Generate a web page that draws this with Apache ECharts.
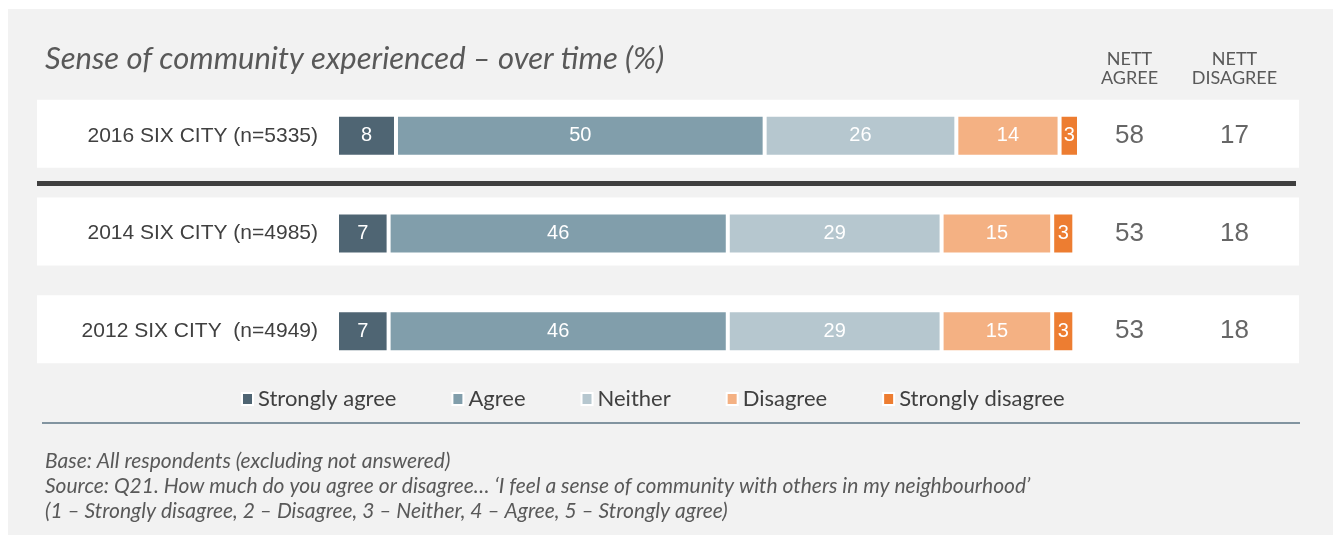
<!DOCTYPE html>
<html>
<head>
<meta charset="utf-8">
<style>
  html, body { margin: 0; padding: 0; background: #ffffff; }
  #chart { width: 1335px; height: 539px; }
</style>
<script src="https://cdn.jsdelivr.net/npm/echarts@6/dist/echarts.min.js"></script>
</head>
<body>
<div id="chart"></div>
<script>
// Survey waves, top to bottom
const rows = ['2016 SIX CITY (n=5335)', '2014 SIX CITY (n=4985)', '2012 SIX CITY  (n=4949)'];

// Response shares (%) per wave
const stronglyAgree    = [8, 7, 7];
const agree            = [50, 46, 46];
const neither          = [26, 29, 29];
const disagree         = [14, 15, 15];
const stronglyDisagree = [3, 3, 3];

// Nett columns
const nettHeaders  = ['NETT\nAGREE', 'NETT\nDISAGREE'];
const nettAgree    = [58, 53, 53];
const nettDisagree = [17, 18, 18];

const seriesNames  = ['Strongly agree', 'Agree', 'Neither', 'Disagree', 'Strongly disagree'];
const seriesValues = [stronglyAgree, agree, neither, disagree, stronglyDisagree];
const seriesColors = ['#4f6573', '#819eab', '#b6c7cf', '#f4b183', '#ed7d31'];

const footnotes = [
  'Base: All respondents (excluding not answered)',
  'Source: Q21. How much do you agree or disagree\u2026 \u2018I feel a sense of community with others in my neighbourhood\u2019',
  '(1 \u2013 Strongly disagree, 2 \u2013 Disagree, 3 \u2013 Neither, 4 \u2013 Agree, 5 \u2013 Strongly agree)'
];

const GRID_TOP = 85, GRID_H = 293;
const chart = echarts.init(document.getElementById('chart'));

const stackSeries = seriesNames.map((name, k) => ({
  name: name,
  type: 'bar',
  stack: 'total',
  xAxisIndex: 1,
  yAxisIndex: 1,
  barWidth: 42,
  z: 3,
  data: seriesValues[k],
  itemStyle: { color: seriesColors[k], borderColor: '#ffffff', borderWidth: 2 },
  label: {
    show: true,
    position: 'inside',
    color: '#ffffff',
    fontFamily: 'Liberation Sans',
    fontSize: 20
  },
  emphasis: { disabled: true }
}));

const nettSeries = [nettAgree, nettDisagree].map((vals, c) => ({
  type: 'scatter',
  xAxisIndex: 2,
  yAxisIndex: 2,
  symbolSize: 0,
  silent: true,
  data: vals.map((v, i) => [c, i, v]),
  label: {
    show: true,
    position: 'inside',
    formatter: p => String(p.data[2]),
    color: '#404040',
    fontFamily: 'Liberation Sans',
    fontSize: 26
  }
}));

chart.setOption({
  backgroundColor: '#ffffff',
  animation: false,
  graphic: [
    // panel background
    { type: 'rect', z: -10, shape: { x: 8, y: 9, width: 1325, height: 526 }, style: { fill: '#f2f2f2' } },
    // title
    { type: 'text', left: 45, top: 43, style: {
        text: 'Sense of community experienced \u2013 over time (%)',
        font: 'italic 31px Lato', fill: '#595959' } },
    // divider between current and previous waves
    { type: 'rect', z: 5, shape: { x: 37, y: 181, width: 1259, height: 5 }, style: { fill: '#3f3f3f' } },
    // rule under legend
    { type: 'line', shape: { x1: 42, y1: 423, x2: 1300, y2: 423 }, style: { stroke: '#5c7584', lineWidth: 1.5 } },
    // footnotes
    ...footnotes.map((t, i) => ({
      type: 'text', left: 45, top: 451 + i * 25,
      style: { text: t, font: 'italic 21px Lato', fill: '#595959' }
    }))
  ],
  legend: {
    data: seriesNames,
    left: 236,
    top: 383,
    icon: 'rect',
    itemWidth: 11,
    itemHeight: 12,
    itemGap: 55,
    selectedMode: false,
    textStyle: { fontFamily: 'Lato', fontSize: 22, color: '#404040' }
  },
  grid: [
    { left: 37, width: 1262, top: GRID_TOP, height: GRID_H },
    { left: 337, width: 741, top: GRID_TOP + 2, height: GRID_H },
    { left: 1077, width: 210, top: GRID_TOP + 2, height: GRID_H }
  ],
  xAxis: [
    { gridIndex: 0, type: 'value', min: 0, max: 1, show: false },
    { gridIndex: 1, type: 'value', min: 0, max: 100.5, show: false },
    { gridIndex: 2, type: 'category', data: nettHeaders, position: 'top',
      axisLine: { show: false }, axisTick: { show: false },
      axisLabel: { interval: 0, fontFamily: 'Lato', fontSize: 18, lineHeight: 19, color: '#595959', margin: -1 } }
  ],
  yAxis: [
    { gridIndex: 0, type: 'category', data: rows, inverse: true, show: false },
    { gridIndex: 1, type: 'category', data: rows, inverse: true,
      axisLine: { show: false }, axisTick: { show: false },
      axisLabel: { fontFamily: 'Liberation Sans', fontSize: 21, color: '#404040', margin: 19 },
      z: 4 },
    { gridIndex: 2, type: 'category', data: rows, inverse: true, show: false }
  ],
  series: [
    {
      // white row bands
      type: 'bar',
      xAxisIndex: 0,
      yAxisIndex: 0,
      barWidth: 68,
      silent: true,
      z: 1,
      data: rows.map(() => 1),
      itemStyle: { color: '#ffffff' }
    },
    ...stackSeries,
    ...nettSeries
  ]
});
</script>
</body>
</html>
